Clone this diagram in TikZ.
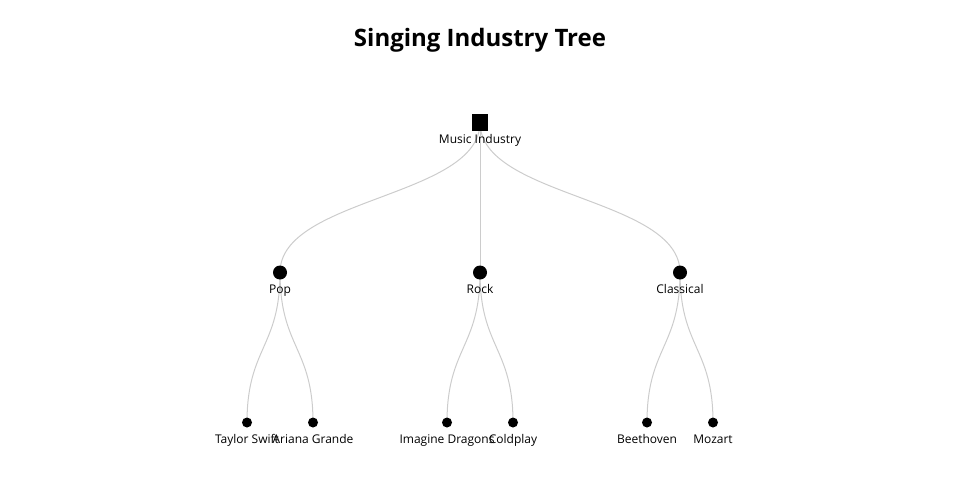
\documentclass[tikz,border=0pt]{standalone}
\usepackage{fontspec}
\setmainfont{Open Sans}
\begin{document}
\begin{tikzpicture}[x=1pt,y=-1pt,
  rootnode/.style={fill=black,draw=none,minimum size=16pt,inner sep=0pt,rectangle},
  midnode/.style={fill=black,draw=none,circle,minimum size=14pt,inner sep=0pt},
  leafnode/.style={fill=black,draw=none,circle,minimum size=10pt,inner sep=0pt},
  lbl/.style={font=\fontsize{12}{14}\selectfont,inner sep=0pt,anchor=base},
  edge/.style={draw={rgb,255:red,204;green,204;blue,204},line width=1pt}]
\useasboundingbox (0,0) rectangle (960,500);
\node[font=\fontsize{24}{28}\selectfont\bfseries,anchor=base,inner sep=0pt] (title) at (480,47) {Singing Industry Tree};
% coordinates
\coordinate (r) at (480,122.5);
\coordinate (p) at (280,272.5);
\coordinate (k) at (480,272.5);
\coordinate (c) at (680,272.5);
\coordinate (l1) at (247,422.5);
\coordinate (l2) at (313,422.5);
\coordinate (l3) at (447,422.5);
\coordinate (l4) at (513,422.5);
\coordinate (l5) at (647,422.5);
\coordinate (l6) at (713,422.5);
% edges
\draw[edge] (r) .. controls (480,197.5) and (280,197.5) .. (p);
\draw[edge] (r) -- (k);
\draw[edge] (r) .. controls (480,197.5) and (680,197.5) .. (c);
\draw[edge] (p) .. controls (280,347.5) and (247,347.5) .. (l1);
\draw[edge] (p) .. controls (280,347.5) and (313,347.5) .. (l2);
\draw[edge] (k) .. controls (480,347.5) and (447,347.5) .. (l3);
\draw[edge] (k) .. controls (480,347.5) and (513,347.5) .. (l4);
\draw[edge] (c) .. controls (680,347.5) and (647,347.5) .. (l5);
\draw[edge] (c) .. controls (680,347.5) and (713,347.5) .. (l6);
% nodes
\node[rootnode] (rn) at (r) {};
\node[midnode] (pn) at (p) {};
\node[midnode] (kn) at (k) {};
\node[midnode] (cn) at (c) {};
\foreach \i in {1,...,6} { \node[leafnode] (ln\i) at (l\i) {}; }
% labels
\node[lbl] (rl) at (480,143) {Music Industry};
\node[lbl] (pl) at (280,293) {Pop};
\node[lbl] (kl) at (480,293) {Rock};
\node[lbl] (cl) at (680,293) {Classical};
\node[lbl] (t1) at (247,443) {Taylor Swift};
\node[lbl] (t2) at (313,443) {Ariana Grande};
\node[lbl] (t3) at (447,443) {Imagine Dragons};
\node[lbl] (t4) at (513,443) {Coldplay};
\node[lbl] (t5) at (647,443) {Beethoven};
\node[lbl] (t6) at (713,443) {Mozart};
\end{tikzpicture}
\end{document}
